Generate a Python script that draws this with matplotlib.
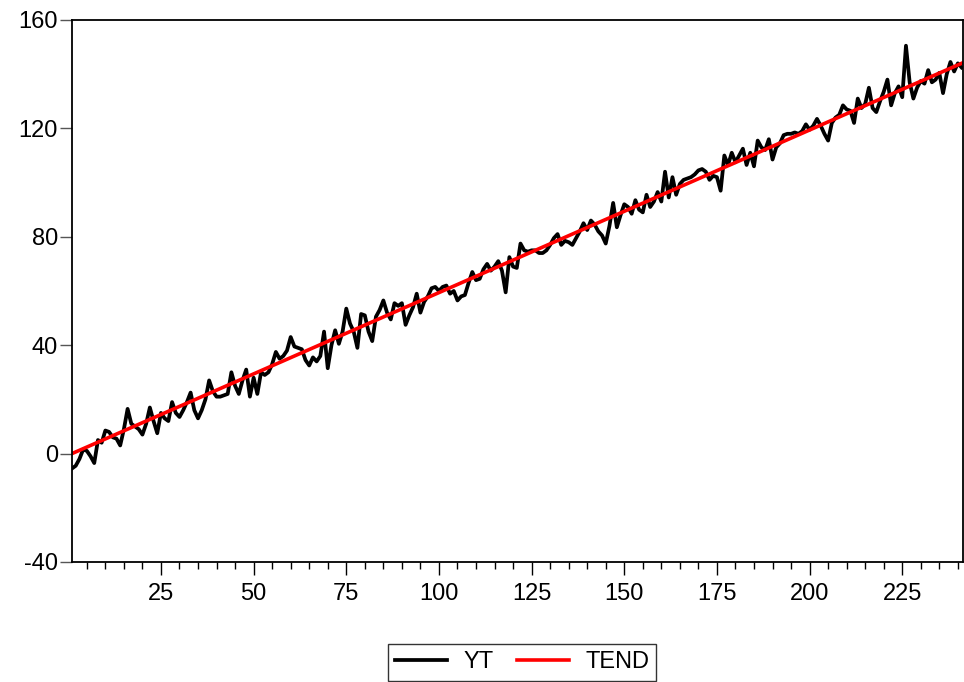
import numpy as np
import matplotlib.pyplot as plt
from matplotlib.ticker import MultipleLocator

plt.rcParams['font.family'] = ['Liberation Sans', 'DejaVu Sans']
plt.rcParams['axes.unicode_minus'] = False

yt = [-5.5, -4.5, -2, 1.5, 1, -1, -3.5, 5, 4, 8.5,
      8, 6, 5.5, 3, 9, 16.5, 11, 10, 9, 7,
      11, 17, 12, 7.5, 15, 13, 12, 19, 15, 13.5,
      16, 19, 22.5, 16, 13, 16, 20, 27, 23, 21,
      21, 21.5, 22, 30, 25, 22, 27, 31, 21, 28,
      22, 30, 29, 30, 33, 37.5, 35, 36, 38, 43,
      39.5, 39, 38.5, 34.5, 32.5, 35.5, 34, 36, 45, 31.5,
      40, 45.5, 40.5, 45, 53.5, 48, 45, 39, 51.5, 51,
      45, 41.5, 50.5, 53, 56.5, 52, 49.5, 55.5, 54.5, 55.5,
      47.5, 51, 54, 59, 52, 56, 58, 61, 61.5, 60,
      61.5, 62, 59, 60, 56.5, 58, 58.5, 63, 67, 64,
      64.5, 68, 70, 67.5, 69, 71, 67.5, 59.5, 72.5, 69,
      68.5, 77.5, 75, 74.5, 75, 75, 74, 74, 75, 77,
      79.5, 81, 77, 78.5, 78, 77, 79.5, 82, 85, 82.5,
      86, 84.5, 82, 80.5, 77.5, 84, 92.5, 83.5, 88, 92,
      91, 88.5, 93.5, 90, 89, 95.5, 91, 93, 96.5, 93,
      104, 94.5, 102, 95.5, 99.5, 101, 101.5, 102, 103, 104.5,
      105, 104, 101, 102.5, 102, 97, 110, 106.5, 111, 107.5,
      110, 112.5, 106.5, 111, 106, 115.5, 113, 112, 116, 108.5,
      113, 114.5, 117.5, 118, 118, 118.5, 118, 119, 121.5, 119.5,
      121, 123.5, 121, 118, 115.5, 122, 124, 125, 128.5, 127,
      126.5, 122, 131, 127.5, 129, 135, 127.5, 126, 130, 133.5,
      138, 128.5, 133, 135.5, 131.5, 150.5, 137, 131, 135, 137.5,
      136.5, 141.5, 137, 138, 140.5, 133, 140, 144.5, 141, 144,
      142.5]
t = np.arange(1, len(yt) + 1)

# tendencia linear (extremos)
tend_t = [1, 241]
tend_y = [0.0, 144.0]

fig = plt.figure(figsize=(9.64, 6.82), dpi=100)
ax = fig.add_axes([0.0747, 0.176, 0.9243, 0.7947])

ax.plot(t, yt, color='black', lw=2.7, label='YT')
ax.plot(tend_t, tend_y, color='#ff0000', lw=2.6, label='TEND')

ax.set_xlim(1, 241.4)
ax.set_ylim(-40, 160)
ax.yaxis.set_major_locator(MultipleLocator(40))
ax.xaxis.set_major_locator(MultipleLocator(25))
ax.xaxis.set_minor_locator(MultipleLocator(5))

ax.tick_params(axis='both', labelsize=17, colors='black')
ax.tick_params(axis='x', which='major', length=9, width=1, pad=6)
ax.tick_params(axis='x', which='minor', length=5, width=1)
ax.tick_params(axis='y', length=9, width=1, color='#555555', pad=1)
for s in ax.spines.values():
    s.set_linewidth(1.3)

leg = ax.legend(loc='upper center', bbox_to_anchor=(0.505, -0.152), ncol=2,
                fontsize=17, frameon=True, fancybox=False, edgecolor='black',
                handlelength=2.2, columnspacing=1.0, handletextpad=0.7,
                borderpad=0.3, borderaxespad=0)
leg.get_frame().set_linewidth(1.0)

fig.savefig('out.png', dpi=100)
